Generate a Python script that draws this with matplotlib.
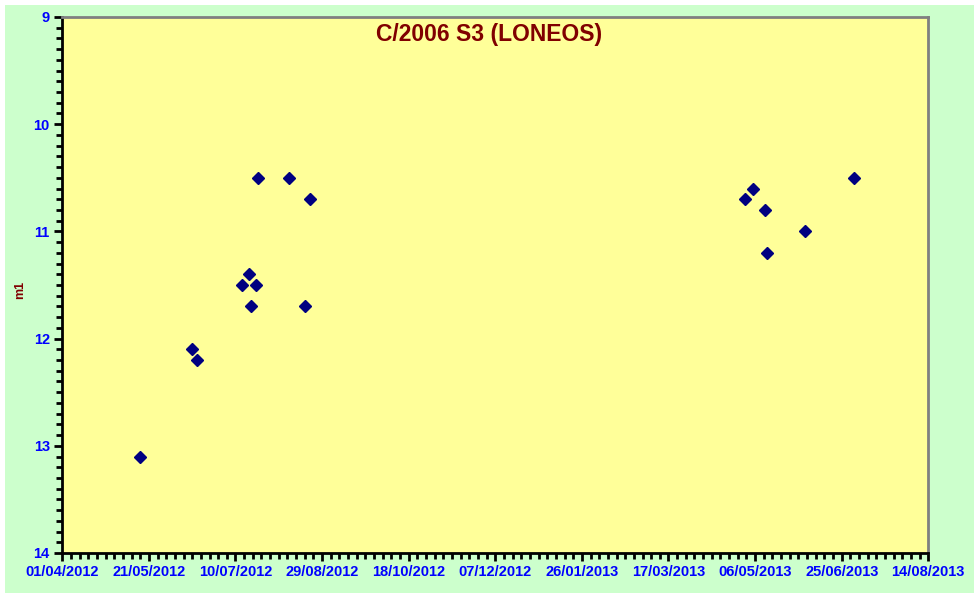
import matplotlib
matplotlib.use("Agg")
import matplotlib.pyplot as plt
import matplotlib.dates as mdates
from matplotlib.patches import Rectangle
from matplotlib.ticker import MultipleLocator, FixedLocator
import datetime as dt

obs_dates = ["2012-05-16", "2012-06-15", "2012-06-18", "2012-07-14", "2012-07-18",
             "2012-07-19", "2012-07-22", "2012-07-23", "2012-08-10", "2012-08-19",
             "2012-08-22", "2013-04-30", "2013-05-05", "2013-05-12", "2013-05-13",
             "2013-06-04", "2013-07-02"]
m1 = [13.1, 12.1, 12.2, 11.5, 11.4, 11.7, 11.5, 10.5, 10.5, 11.7,
      10.7, 10.7, 10.6, 10.8, 11.2, 11.0, 10.5]

title = "C/2006 S3 (LONEOS)"
start = dt.date(2012, 4, 1)
end = dt.date(2013, 8, 14)

plt.rcParams['font.family'] = ['Liberation Sans', 'DejaVu Sans']

fig = plt.figure(figsize=(9.77, 6.0), dpi=100, facecolor="white")
fig.patches.append(Rectangle((5 / 977, 7 / 600), 969 / 977, 588 / 600,
                             transform=fig.transFigure, facecolor="#CCFFCC",
                             edgecolor="none", zorder=-10))

ax = fig.add_axes([62.3 / 977, 47 / 600, 866 / 977, 536 / 600])
ax.set_facecolor("#FFFF99")

x = [dt.date.fromisoformat(d) for d in obs_dates]
ax.plot(x, m1, linestyle="none", marker="D", markersize=6.5,
        color="#000080", zorder=3)

ax.set_xlim(start, end)
ax.set_ylim(14, 9)

major = [start + dt.timedelta(days=i) for i in range(0, 501, 50)]
minor = [start + dt.timedelta(days=i) for i in range(0, 501, 5)]
ax.xaxis.set_major_locator(FixedLocator(mdates.date2num(major)))
ax.xaxis.set_minor_locator(FixedLocator(mdates.date2num(minor)))
ax.xaxis.set_major_formatter(mdates.DateFormatter("%d/%m/%Y"))
ax.yaxis.set_major_locator(MultipleLocator(1))
ax.yaxis.set_minor_locator(MultipleLocator(0.1))

ax.tick_params(axis="both", which="major", direction="out", length=6, width=2,
               color="black", labelcolor="#0000FF", labelsize=10.5)
ax.tick_params(axis="both", which="minor", direction="out", length=4, width=2,
               color="black")
ax.tick_params(axis="x", which="major", pad=3)
ax.tick_params(axis="y", which="major", pad=3)
for lab in ax.get_xticklabels() + ax.get_yticklabels():
    lab.set_fontweight("bold")

for side in ["left", "bottom"]:
    ax.spines[side].set_color("black")
    ax.spines[side].set_linewidth(2)
for side in ["top", "right"]:
    ax.spines[side].set_color("#808080")
    ax.spines[side].set_linewidth(2)

fig.text(20 / 977, 1 - 290 / 600, "m1", rotation=90, ha="center", va="center",
         color="#800000", fontweight="bold", fontsize=9)
ax.text(0.4927, 0.968, title, transform=ax.transAxes, ha="center", va="center",
        color="#800000", fontweight="bold", fontsize=16.5)

fig.savefig("out.png", dpi=100, facecolor=fig.get_facecolor())
